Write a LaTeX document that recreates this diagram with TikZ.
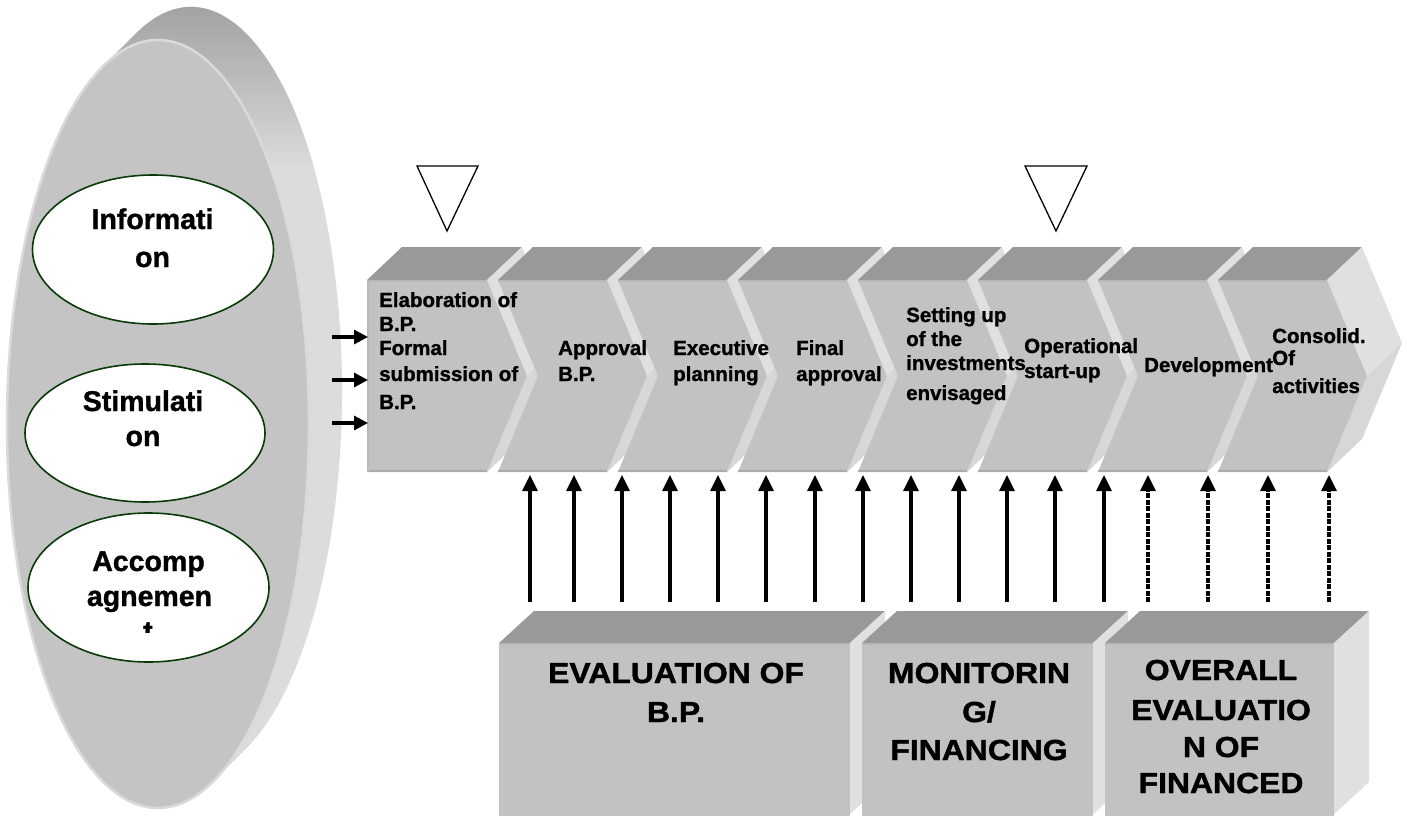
\documentclass[tikz,border=0pt]{standalone}
\usepackage{fontspec}
\setmainfont{Liberation Sans}[BoldFeatures={FakeBold=1.2}]
\newfontfamily\widesans{Liberation Sans}[FakeStretch=1.1, BoldFeatures={FakeBold=1.5}]
\usetikzlibrary{arrows.meta,shapes.geometric}
\definecolor{topc}{HTML}{999999}
\definecolor{frontc}{HTML}{C2C2C2}
\definecolor{sidec}{HTML}{E0E0E0}
\definecolor{sidecb}{HTML}{D7D7D7}
\definecolor{edgec}{HTML}{ABABAB}
\definecolor{edgetop}{HTML}{B8B8B8}
\definecolor{ovalc}{HTML}{0A3A0A}
\definecolor{discc}{HTML}{C4C4C4}
\definecolor{rimc}{HTML}{DCDCDC}
\definecolor{rimdark}{HTML}{A0A0A0}
\definecolor{rimedge}{HTML}{DADADA}
\begin{document}
\begin{tikzpicture}[x=1pt,y=-1pt,
  ctext/.style={font=\bfseries\fontsize{20.5}{24}\selectfont, anchor=base west, inner sep=0pt},
  btext/.style={font=\widesans\bfseries\fontsize{29}{34}\selectfont, anchor=base, inner sep=0pt},
  otext/.style={font=\bfseries\fontsize{28.5}{34}\selectfont, anchor=base, inner sep=0pt},
  oval/.style={ellipse, draw=ovalc, line width=1.6pt, fill=white, inner sep=0pt},
  uparrow/.style={line width=3.2pt, -{Triangle[length=16pt,width=15pt]}},
  duparrow/.style={uparrow, dash pattern=on 5pt off 1.5pt},
  rarrow/.style={line width=3.2pt, -{Triangle[length=14pt,width=14pt]}},
  milestone/.style={draw=black, line width=1.3pt, fill=white},
]
\useasboundingbox (0,0) rectangle (1407,816);
\fill[white] (0,0) rectangle (1407,816);

% ---------- disc ----------
\begin{scope}
  \clip (135.66,33.7) arc[start angle=248.5, end angle=428.5, x radius=151, y radius=384]
        -- (213.34,781.3) arc[start angle=68.5, end angle=248.5, x radius=151, y radius=384] -- cycle;
  \fill[rimc] (0,0) rectangle (420,816);
  \shade[top color=rimdark, bottom color=rimc] (0,0) rectangle (420,170);
\end{scope}
\fill[discc, draw=rimedge, line width=2.5pt] (158,424) ellipse[x radius=151, y radius=384];

% ---------- ovals ----------
\node[oval, minimum width=241pt, minimum height=149pt] (info) at (153,249.5) {};
\node[oval, minimum width=240pt, minimum height=138pt] (stim) at (145,433) {};
\node[oval, minimum width=241pt, minimum height=149pt] (acc) at (148.5,587.5) {};
\node[otext] (info1) at (152.5,229) {Informati};
\node[otext] (info2) at (152.5,267) {on};
\node[otext] (stim1) at (143,411) {Stimulati};
\node[otext] (stim2) at (143,446) {on};
\node[otext] (acc1) at (148.5,571) {Accomp};
\node[otext] (acc2) at (149.5,606) {agnemen};
\begin{scope}
  \clip (0,0) rectangle (400,632);
  \node[otext] (acc3) at (148,641) {t};
\end{scope}

% ---------- milestones ----------
\draw[milestone] (417,166) -- (478,166) -- (447,231) -- cycle;
\draw[milestone] (1025,166) -- (1087,166) -- (1056,231) -- cycle;

% ---------- chevron row ----------
% box 0 (flat left)
\fill[topc] (367,280) -- (402,247) -- (522,247) -- (487,280) -- cycle;
\fill[sidec] (487,280) -- (522,247) -- (562,343) -- (527,376) -- cycle;
\fill[sidecb] (527,376) -- (562,343) -- (522,439) -- (487,472) -- cycle;
\fill[frontc] (367,280) -- (487,280) -- (527,376) -- (487,472) -- (367,472) -- cycle;
\draw[edgec, line width=2pt] (367,471) -- (487,471);
\draw[edgetop, line width=1.2pt] (367,281) -- (487,281);
\draw[edgetop, line width=1.2pt] (368,281) -- (368,472);
\foreach \i in {1,...,7} {
  \pgfmathsetmacro\L{378+120*\i}
  \pgfmathsetmacro\R{487+120*\i}
  \fill[topc] (\L,280) -- (\L+35,247) -- (\R+35,247) -- (\R,280) -- cycle;
  \fill[sidec] (\R,280) -- (\R+35,247) -- (\R+75,343) -- (\R+40,376) -- cycle;
  \fill[sidecb] (\R+40,376) -- (\R+75,343) -- (\R+35,439) -- (\R,472) -- cycle;
  \fill[frontc] (\L,280) -- (\R,280) -- (\R+40,376) -- (\R,472) -- (\L,472) -- (\L+40,376) -- cycle;
  \draw[edgec, line width=2pt] (\L,471) -- (\R,471);
  \draw[edgetop, line width=1.2pt] (\L,281) -- (\R,281);
}

% chevron texts
\node[ctext] (t1a) at (379,307) {Elaboration of};
\node[ctext] (t1b) at (379,331) {B.P.};
\node[ctext] (t1c) at (379,355) {Formal};
\node[ctext] (t1d) at (379,381) {submission of};
\node[ctext] (t1e) at (379,409) {B.P.};
\node[ctext] (t2a) at (558,355) {Approval};
\node[ctext] (t2b) at (558,381) {B.P.};
\node[ctext] (t3a) at (673,355) {Executive};
\node[ctext] (t3b) at (673,381) {planning};
\node[ctext] (t4a) at (796,355) {Final};
\node[ctext] (t4b) at (796,381) {approval};
\node[ctext] (t5a) at (906,322) {Setting up};
\node[ctext] (t5b) at (906,346) {of the};
\node[ctext] (t5c) at (906,370) {investments};
\node[ctext] (t5d) at (906,400) {envisaged};
\node[ctext] (t6a) at (1024,353) {Operational};
\node[ctext] (t6b) at (1024,378) {start-up};
\node[ctext] (t7a) at (1144,372) {Development};
\node[ctext] (t8a) at (1272,343) {Consolid.};
\node[ctext] (t8b) at (1272,365) {Of};
\node[ctext] (t8c) at (1272,393) {activities};

% ---------- left arrows ----------
\foreach \y [count=\k] in {337,380,423} {
  \coordinate (ls\k) at (332,\y);
  \coordinate (le\k) at (368,\y);
  \draw[rarrow] (ls\k) -- (le\k);
}

% ---------- bottom boxes ----------
\foreach \L/\R/\n in {499/850/A, 862/1093/B, 1105/1334/C} {
  \fill[topc] (\L,643) -- (\L+35,611) -- (\R+35,611) -- (\R,643) -- cycle;
  \fill[sidec] (\R,643) -- (\R+35,611) -- (\R+35,782) -- (\R,814) -- cycle;
  \fill[frontc] (\L,643) rectangle (\R,816);
  \draw[edgetop, line width=2pt] (\L,644) -- (\R,644);
  \coordinate (box\n) at ({(\L+\R)/2},643);
}
\node[btext] (ba1) at (676,683) {EVALUATION OF};
\node[btext] (ba2) at (676,722) {B.P.};
\node[btext] (bb1) at (979,683) {MONITORIN};
\node[btext] (bb2) at (979,722) {G/};
\node[btext] (bb3) at (979,760) {FINANCING};
\node[btext] (bc1) at (1221,680) {OVERALL};
\node[btext] (bc2) at (1221,720) {EVALUATIO};
\node[btext] (bc3) at (1221,757) {N OF};
\node[btext] (bc4) at (1221,793) {FINANCED};

% ---------- vertical arrows ----------
\foreach \x [count=\k] in {530,574,622,670,718,766,815,863,911,959,1007,1055,1104} {
  \coordinate (us\k) at (\x,602);
  \coordinate (ue\k) at (\x,475);
  \draw[uparrow] (us\k) -- (ue\k);
}
\foreach \x [count=\k] in {1148,1208,1268,1329} {
  \coordinate (ds\k) at (\x,602);
  \coordinate (de\k) at (\x,475);
  \draw[duparrow] (ds\k) -- (de\k);
}
\end{tikzpicture}
\end{document}
